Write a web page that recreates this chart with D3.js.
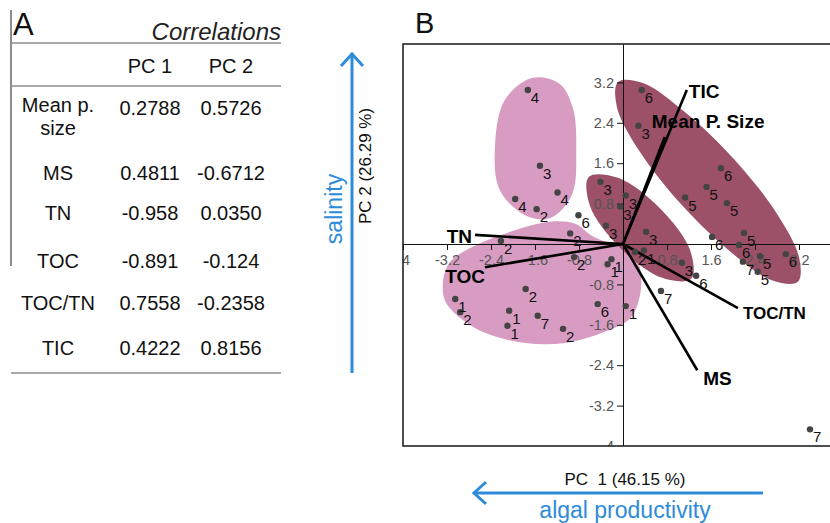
<!DOCTYPE html>
<html>
<head>
<meta charset="utf-8">
<script src="https://cdn.jsdelivr.net/npm/d3@7"></script>
<style>
body { margin: 0; background: #fff; }
text { font-family: "Liberation Sans", Arial, sans-serif; }
</style>
</head>
<body>
<svg id="fig" width="830" height="523"></svg>
<script>
// ---- panel A : correlation table
const varNames = ["Mean p.\nsize", "MS", "TN", "TOC", "TOC/TN", "TIC"];
const corrPC1 = ["0.2788", "0.4811", "-0.958", "-0.891", "0.7558", "0.4222"];
const corrPC2 = ["0.5726", "-0.6712", "0.0350", "-0.124", "-0.2358", "0.8156"];

// ---- panel B : PCA biplot
const axisTicks = [-4, -3.2, -2.4, -1.6, -0.8, 0.8, 1.6, 2.4, 3.2];

// loading vectors (end points in plot units)
const loadNames = ["TIC", "Mean P. Size", "TN", "TOC", "TOC/TN", "MS"];
const loadPC1 = [1.16, 0.76, -2.69, -2.51, 2.09, 1.35];
const loadPC2 = [3.05, 2.12, 0.18, -0.46, -1.27, -2.50];

// sample scores
const scoreGroup = ["4", "3", "4", "4", "2", "6", "2", "3", "3", "2",
                    "6", "3", "6", "5", "5", "5", "3", "3", "3", "6",
                    "5", "6", "5", "7", "5", "6", "3", "6", "7", "1",
                    "7", "2", "1", "1", "1", "2", "2", "1", "2", "1",
                    "1", "7", "2", "6"];
const scorePC1 = [-1.73, -1.51, -1.19, -1.96, -1.57, -0.81, -0.96, -0.41, -0.31, -2.22,
                  0.34, 0.28, 1.78, 1.52, 1.13, 1.89, 0.05, -0.05, 0.42, 1.62,
                  2.20, 2.11, 2.49, 2.18, 2.45, 2.96, 1.07, 1.33, 0.69, 0.05,
                  3.40, 0.22, 0.38, -0.28, -0.21, -0.89, -1.77, -3.05, -2.96, -2.07,
                  -2.10, -1.55, -1.09, -0.46];
const scorePC2 = [3.05, 1.55, 1.02, 0.89, 0.69, 0.57, 0.21, 1.23, 0.36, 0.06,
                  3.05, 2.34, 1.50, 1.13, 0.92, 0.81, 0.96, 0.74, 0.24, 0.14,
                  0.22, -0.02, -0.24, -0.35, -0.55, -0.20, -0.37, -0.63, -0.93, -1.23,
                  -3.67, -0.16, -0.13, -0.40, -0.30, -0.26, -0.89, -1.09, -1.35, -1.32,
                  -1.62, -1.42, -1.68, -1.19];

// group outlines (plot units)
const blobUpper = [[-1.64, 3.29], [-1.15, 3.17], [-0.91, 2.69], [-0.85, 1.86], [-0.93, 0.97],
                   [-1.33, 0.51], [-1.78, 0.57], [-2.24, 1.07], [-2.33, 1.86], [-2.15, 2.85]];
const blobLower = [[-3.27, -0.71], [-3.15, -0.36], [-2.78, -0.08], [-2.05, 0.24], [-1.33, 0.44],
                   [-0.87, 0.40], [-0.56, 0.16], [-0.2, 0.0], [0.16, -0.12], [0.31, -0.48],
                   [0.31, -1.01], [0.13, -1.47], [-0.33, -1.74], [-1.05, -1.96], [-1.78, -1.96],
                   [-2.51, -1.76], [-3.0, -1.43], [-3.24, -1.11]];
const blobLong = [[3.18, -0.75], [2.73, -0.73], [1.96, -0.16], [1.07, 0.77], [0.31, 1.82],
                  [-0.11, 2.71], [-0.09, 3.21], [0.36, 3.19], [1.13, 2.61], [2.02, 1.68],
                  [2.78, 0.63], [3.2, -0.26]];
const blobSmall = [[1.24, -0.69], [0.71, -0.67], [-0.05, -0.08], [-0.6, 0.75], [-0.62, 1.33],
                   [-0.09, 1.31], [0.67, 0.71], [1.22, -0.12]];

const blue = "#2e8bd9";
const svg = d3.select("#fig");

// ================= panel A
const tbl = svg.append("g");
const lineCol = "#8c8c8c";
tbl.append("line").attr("x1", 11).attr("x2", 11).attr("y1", 10).attr("y2", 266)
    .attr("stroke", lineCol).attr("stroke-width", 2);
[43, 86, 373].forEach(y => {
    tbl.append("line").attr("x1", 11).attr("x2", 281).attr("y1", y).attr("y2", y)
        .attr("stroke", lineCol).attr("stroke-width", 1.5);
});
tbl.append("text").attr("x", 13).attr("y", 35).attr("font-size", 31).attr("fill", "#111").text("A");
tbl.append("text").attr("x", 281).attr("y", 40).attr("font-size", 24).attr("font-style", "italic")
    .attr("text-anchor", "end").attr("fill", "#222").text("Correlations");

const colX = [58, 150, 231];
const rowBase = [115, 180, 220, 268, 310, 355];
tbl.selectAll(".hdr").data(["PC 1", "PC 2"]).enter().append("text")
    .attr("x", (d, i) => colX[i + 1]).attr("y", 73)
    .attr("text-anchor", "middle").attr("font-size", 20).attr("fill", "#111").text(d => d);

varNames.forEach((name, i) => {
    const parts = name.split("\n");
    const t = tbl.append("text").attr("text-anchor", "middle").attr("font-size", 20).attr("fill", "#111");
    if (parts.length > 1) {
        t.append("tspan").attr("x", colX[0]).attr("y", rowBase[i] - 3).text(parts[0]);
        t.append("tspan").attr("x", colX[0]).attr("y", rowBase[i] + 20).text(parts[1]);
    } else {
        t.attr("x", colX[0]).attr("y", rowBase[i]).text(name);
    }
    tbl.append("text").attr("x", colX[1]).attr("y", rowBase[i]).attr("text-anchor", "middle")
        .attr("font-size", 20).attr("fill", "#111").text(corrPC1[i]);
    tbl.append("text").attr("x", colX[2]).attr("y", rowBase[i]).attr("text-anchor", "middle")
        .attr("font-size", 20).attr("fill", "#111").text(corrPC2[i]);
});

// ================= panel B
const box = {left: 403, top: 44, right: 832, bottom: 446};
const x = d3.scaleLinear().domain([-4, 3.8]).range([box.left, box.right]);
const y = d3.scaleLinear().domain([-4, 3.96]).range([box.bottom, box.top]);

svg.append("text").attr("x", 415).attr("y", 33).attr("font-size", 29).attr("fill", "#111").text("B");

svg.append("clipPath").attr("id", "plotclip").append("rect")
    .attr("x", box.left).attr("y", box.top)
    .attr("width", box.right - box.left).attr("height", box.bottom - box.top);

const plot = svg.append("g").attr("clip-path", "url(#plotclip)");

const outline = d3.line().x(d => x(d[0])).y(d => y(d[1])).curve(d3.curveCatmullRomClosed.alpha(0.5));
const blobs = [
    {pts: blobUpper, fill: "#d89cc3"},
    {pts: blobLower, fill: "#d89cc3"},
    {pts: blobLong, fill: "#9c5169"},
    {pts: blobSmall, fill: "#9c5169"}
];
plot.selectAll(".blob").data(blobs).enter().append("path")
    .attr("class", "blob").attr("d", d => outline(d.pts)).attr("fill", d => d.fill);

// axes through origin
const xAxis = d3.axisBottom(x).tickValues(axisTicks).tickSize(6).tickSizeOuter(0).tickPadding(5)
    .tickFormat(d => String(d));
const yAxis = d3.axisLeft(y).tickValues(axisTicks).tickSize(6).tickSizeOuter(0).tickPadding(3)
    .tickFormat(d => String(d));
const gx = plot.append("g").attr("transform", `translate(0,${y(0)})`).call(xAxis);
const gy = plot.append("g").attr("transform", `translate(${x(0)},0)`).call(yAxis);
[gx, gy].forEach(g => {
    g.selectAll("text").attr("font-size", 14.5).attr("fill", "#555")
        .attr("font-family", "'Liberation Sans', Arial, sans-serif");
    g.selectAll("line").attr("stroke", "#111");
    g.select(".domain").attr("stroke", "#111");
});

// loadings
const loadStyle = {
    "TIC": {dx: 2, dy: 8, anchor: "start", size: 19},
    "Mean P. Size": {dx: -13, dy: -9, anchor: "start", size: 19},
    "TN": {dx: -3, dy: 8, anchor: "end", size: 19},
    "TOC": {dx: 0, dy: 16, anchor: "end", size: 19},
    "TOC/TN": {dx: 5, dy: 11, anchor: "start", size: 17},
    "MS": {dx: 6, dy: 15, anchor: "start", size: 19}
};
loadNames.forEach((name, i) => {
    const ex = x(loadPC1[i]), ey = y(loadPC2[i]);
    plot.append("line").attr("x1", x(0)).attr("y1", y(0)).attr("x2", ex).attr("y2", ey)
        .attr("stroke", "#000").attr("stroke-width", 2.6);
});

// scores
const scores = scoreGroup.map((g, i) => ({g: g, pc1: scorePC1[i], pc2: scorePC2[i]}));
plot.selectAll(".pt").data(scores).enter().append("circle")
    .attr("class", "pt").attr("cx", d => x(d.pc1)).attr("cy", d => y(d.pc2))
    .attr("r", 3.2).attr("fill", "#444");
plot.selectAll(".ptlab").data(scores).enter().append("text")
    .attr("class", "ptlab").attr("x", d => x(d.pc1) + 3).attr("y", d => y(d.pc2) + 13)
    .attr("font-size", 15).attr("fill", "#111").text(d => d.g);

loadNames.forEach((name, i) => {
    const s = loadStyle[name];
    plot.append("text").attr("x", x(loadPC1[i]) + s.dx).attr("y", y(loadPC2[i]) + s.dy)
        .attr("text-anchor", s.anchor).attr("font-size", s.size).attr("font-weight", "bold")
        .attr("fill", "#000").text(name);
});

// frame
svg.append("rect").attr("x", box.left).attr("y", box.top)
    .attr("width", 460).attr("height", box.bottom - box.top)
    .attr("fill", "none").attr("stroke", "#222").attr("stroke-width", 1.6);

// axis titles
svg.append("text").attr("transform", "translate(371,166) rotate(-90)")
    .attr("text-anchor", "middle").attr("font-size", 17).attr("fill", "#111").text("PC 2 (26.29 %)");
svg.append("text").attr("x", 625).attr("y", 485).attr("text-anchor", "middle")
    .attr("font-size", 17).attr("fill", "#111").attr("xml:space", "preserve").text("PC  1 (46.15 %)");

// interpretive arrows
svg.append("line").attr("x1", 352).attr("y1", 373).attr("x2", 352).attr("y2", 54)
    .attr("stroke", blue).attr("stroke-width", 3);
svg.append("path").attr("d", "M341,66 L352,54 L363,66").attr("fill", "none")
    .attr("stroke", blue).attr("stroke-width", 3);
svg.append("text").attr("transform", "translate(342,209) rotate(-90)")
    .attr("text-anchor", "middle").attr("font-size", 23).attr("fill", blue).text("salinity");

svg.append("line").attr("x1", 763).attr("y1", 493).attr("x2", 474).attr("y2", 493)
    .attr("stroke", blue).attr("stroke-width", 3);
svg.append("path").attr("d", "M486,482 L474,493 L486,504").attr("fill", "none")
    .attr("stroke", blue).attr("stroke-width", 3);
svg.append("text").attr("x", 625).attr("y", 518).attr("text-anchor", "middle")
    .attr("font-size", 23).attr("fill", blue).text("algal productivity");
</script>
</body>
</html>
